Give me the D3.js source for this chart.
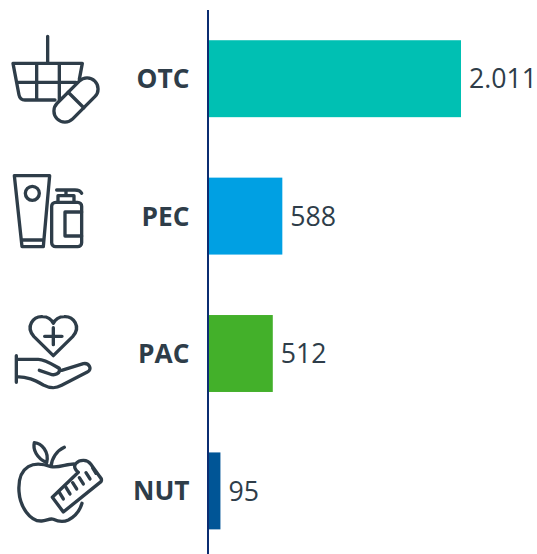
<!DOCTYPE html>
<html><head><meta charset="utf-8">
<script src="https://cdn.jsdelivr.net/npm/d3@7"></script>
<style>html,body{margin:0;padding:0;background:#fff}svg{display:block}text{font-family:"Open Sans",sans-serif}</style>
</head><body><div id="c"></div>
<script>
const categories = ["OTC","PEC","PAC","NUT"];
const values = [2011,588,512,95];
const valueLabels = ["2.011","588","512","95"];
const colors = ["#00c0b3","#00a0e3","#43b02a","#005596"];

const W=537,H=554, ink="#2e3d49";
const svg=d3.select("#c").append("svg").attr("width",W).attr("height",H);
const x=d3.scaleLinear().domain([0,2011]).range([208.5,461]);
const y=d3.scaleBand().domain(categories).range([10,559.6]).paddingInner(0.44).paddingOuter(0.22);

svg.selectAll("rect.bar").data(categories).join("rect").attr("class","bar")
  .attr("x",x(0)).attr("y",d=>y(d)).attr("height",y.bandwidth())
  .attr("width",(d,i)=>x(values[i])-x(0)).attr("fill",(d,i)=>colors[i]);
svg.append("line").attr("x1",208).attr("x2",208).attr("y1",10).attr("y2",H).attr("stroke","#0b2d71").attr("stroke-width",2);

svg.selectAll("text.cat").data(categories).join("text").attr("class","cat")
  .attr("x",189.5).attr("y",d=>y(d)+y.bandwidth()/2).attr("dy","0.36em")
  .attr("text-anchor","end").attr("font-size",26.3).attr("font-weight",700).attr("fill",ink).text(d=>d);
svg.selectAll("text.val").data(categories).join("text").attr("class","val")
  .attr("x",(d,i)=>x(values[i])+8).attr("y",d=>y(d)+y.bandwidth()/2).attr("dy","0.36em")
  .attr("font-size",26.7).attr("fill",ink).text((d,i)=>valueLabels[i]);

// Pictograms, traced in a 3x grid
const icons=svg.append("g").attr("fill","none").attr("stroke",ink).attr("stroke-width",10)
  .attr("stroke-linecap","round").attr("stroke-linejoin","round");
const upper=icons.append("g").attr("transform","translate(0,20) scale(0.3333)");
const lower=icons.append("g").attr("transform","translate(0,290) scale(0.3333)");
const P=(g,d,f)=>g.append("path").attr("d",d).attr("fill",f||"none");

// basket + capsule
P(upper,"M143 49V130M39 130H247L238 178M39 130L57 225Q60 240 75 240H165M50 187H228M110 130V240M178 130V240");
upper.append("g").attr("transform","translate(228,240) rotate(-45)").call(g=>{
  g.append("rect").attr("x",-80).attr("y",-33).attr("width",160).attr("height",66).attr("rx",33).attr("fill","#fff");
  g.append("path").attr("d","M0 -33V33");
});
// tube + pump bottle
P(upper,"M43 467H149L130 680H66ZM66 660H130");
upper.append("circle").attr("cx",97).attr("cy",520).attr("r",21);
upper.append("rect").attr("x",155).attr("y",547).attr("width",90).attr("height",133).attr("rx",12);
P(upper,"M174 547V527H222V547M198 527V510M170 510H225Q240 510 245 520M245 576H195V648H245");
// heart + hand
P(lower,"M160 197L102 140C75 110 100 78 128 80C143 80 155 90 160 100C165 90 177 80 192 80C220 78 245 110 218 140ZM160 113V164M134 139H186");
P(lower,"M49 197V277M49 208H115C135 208 160 225 178 235C182 250 165 258 150 252L118 241M185 241L250 221C268 218 278 238 262 246L185 286C165 297 150 295 130 285C100 268 85 262 49 260");
// apple + tape
P(lower,"M153 530C130 522 105 518 85 530C60 545 55 575 57 605C60 650 90 695 125 693C140 692 150 684 160 688C175 695 190 697 205 690C225 680 240 660 246 640M153 530C175 535 200 522 222 522M153 530C155 505 170 482 193 472");
P(lower,"M140 518C110 505 98 478 103 458C125 460 148 485 140 518Z");
P(lower,"M157 622L190 666L303 575C306 570 304 565 300 561L272 522C262 508 240 508 228 520C220 528 225 540 235 547Z");
P(lower,"M178 607L190 627M198 592L210 612M218 578L230 597M238 563L250 582M258 548L270 567M278 534L288 550");
</script></body></html>
